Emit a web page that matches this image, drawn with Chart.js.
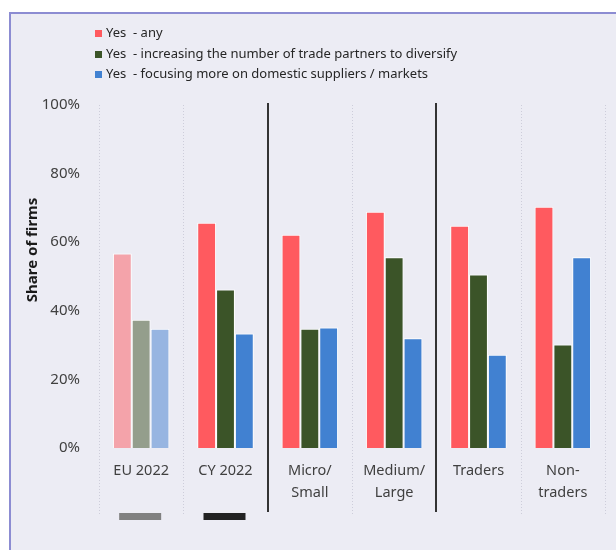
<!DOCTYPE html>
<html lang="en">
<head>
  <meta charset="UTF-8">
  <title>Share of firms</title>
  <script src="https://cdn.jsdelivr.net/npm/chart.js"></script>
  <style>
    body {
      margin: 0;
      background: #fff;
      font-family: "Noto Sans", sans-serif;
    }

    .frame {
      position: absolute;
      left: 9px;
      top: 12px;
      width: 607px;
      height: 538px;
      background: #ececf4;
      border-left: 2px solid #8c8cd2;
      border-top: 2px solid #8c8cd2;
      box-sizing: border-box;
    }

    .wrap {
      position: absolute;
      left: 0;
      top: 0;
      width: 616px;
      height: 550px;
    }

    #legend {
      position: absolute;
      left: 95px;
      top: 22px;
      font-size: 13px;
      color: #262626;
      line-height: 20.5px;
    }

    #legend span.box {
      display: inline-block;
      width: 7px;
      height: 7px;
      margin-right: 4px;
      vertical-align: 0px;
    }
  </style>
</head>
<body>

  <div class="frame"></div>
  <div class="wrap">
    <canvas id="chart" width="616" height="550"></canvas>
  </div>
  <div id="legend"></div>

  <script>
    const categories = [["EU 2022"], ["CY 2022"], ["Micro/", "Small"], ["Medium/", "Large"], ["Traders"], ["Non-", "traders"]];
    const seriesNames = [
      "Yes  - any",
      "Yes  - increasing the number of trade partners to diversify",
      "Yes  - focusing more on domestic suppliers / markets"
    ];
    const anyValues = [56.7, 65.7, 62.2, 68.9, 64.8, 70.3];
    const partnerValues = [37.4, 46.2, 34.8, 55.6, 50.6, 30.2];
    const domesticValues = [34.8, 33.4, 35.1, 32.0, 27.2, 55.6];
    const yTicks = [0, 20, 40, 60, 80, 100];

    // main colour + faded colour used for the EU comparison group
    const colors = ["#ff5a5f", "#3b5428", "#4181d1"];
    const fadedColors = ["#f4a3aa", "#949e8c", "#97b5e1"];

    // boundaries after which a solid divider is drawn
    const solidAfter = [1, 3];
    // small marker bars under the first two groups
    const markerColors = ["#808080", "#222222"];

    function barColors(i) {
      return categories.map((c, j) => j === 0 ? fadedColors[i] : colors[i]);
    }

    const valueSets = [anyValues, partnerValues, domesticValues];
    const datasets = valueSets.map((vals, i) => ({
      label: seriesNames[i],
      data: vals,
      backgroundColor: barColors(i),
      borderColor: "#ffffff",
      borderWidth: 1,
      categoryPercentage: 0.67,
      barPercentage: 1.0
    }));

    // legend built from the datasets
    const legendEl = document.getElementById("legend");
    datasets.forEach((ds, i) => {
      const row = document.createElement("div");
      row.innerHTML = '<span class="box" style="background:' + colors[i] + '"></span>' + ds.label.replace(/  /g, "&nbsp; ");
      legendEl.appendChild(row);
    });

    const extras = {
      id: "extras",
      beforeDatasetsDraw(chart) {
        const ctx = chart.ctx;
        const x = chart.scales.x;
        const n = categories.length;
        const half = (x.getPixelForValue(1) - x.getPixelForValue(0)) / 2;
        ctx.save();
        for (let b = 0; b <= n; b++) {
          const px = Math.round(x.getPixelForValue(0) - half + b * half * 2);
          if (solidAfter.includes(b - 1)) {
            ctx.strokeStyle = "#333333";
            ctx.lineWidth = 2;
            ctx.setLineDash([]);
            ctx.beginPath();
            ctx.moveTo(px, 103);
            ctx.lineTo(px, 512);
            ctx.stroke();
          } else {
            ctx.strokeStyle = "#cdcdda";
            ctx.lineWidth = 1;
            ctx.setLineDash([1, 2]);
            ctx.beginPath();
            ctx.moveTo(px + 0.5, 105);
            ctx.lineTo(px + 0.5, 515);
            ctx.stroke();
          }
        }
        ctx.setLineDash([]);
        markerColors.forEach((c, i) => {
          const cx = x.getPixelForValue(i);
          ctx.fillStyle = c;
          ctx.fillRect(cx - 22, 513, 42, 7);
        });
        // y axis title
        ctx.translate(33, 250);
        ctx.rotate(-Math.PI / 2);
        ctx.fillStyle = "#1a1a1a";
        ctx.font = "bold 15px 'Noto Sans'";
        ctx.textAlign = "center";
        ctx.textBaseline = "middle";
        ctx.fillText("Share of firms", 0, 0);
        ctx.restore();
      }
    };

    new Chart(document.getElementById("chart"), {
      type: "bar",
      data: { labels: categories, datasets: datasets },
      plugins: [extras],
      options: {
        responsive: false,
        animation: false,
        layout: { padding: { left: 0, right: 11, top: 105, bottom: 0 } },
        plugins: {
          legend: { display: false },
          tooltip: { enabled: false }
        },
        scales: {
          x: {
            grid: { display: false, drawTicks: false },
            border: { display: false },
            ticks: {
              padding: 12,
              color: "#404040",
              font: { family: "Noto Sans", size: 14.5, lineHeight: 1.52 },
              maxRotation: 0,
              autoSkip: false
            },
            afterFit(scale) { scale.height = 102; }
          },
          y: {
            min: 0,
            max: 100,
            afterBuildTicks(scale) { scale.ticks = yTicks.map(v => ({ value: v })); },
            grid: { display: false, drawTicks: false },
            border: { display: false },
            ticks: {
              padding: 19,
              color: "#404040",
              font: { family: "Noto Sans", size: 15 },
              callback: v => v + "%"
            },
            afterFit(scale) { scale.width = 99; }
          }
        }
      }
    });
  </script>

</body>
</html>
